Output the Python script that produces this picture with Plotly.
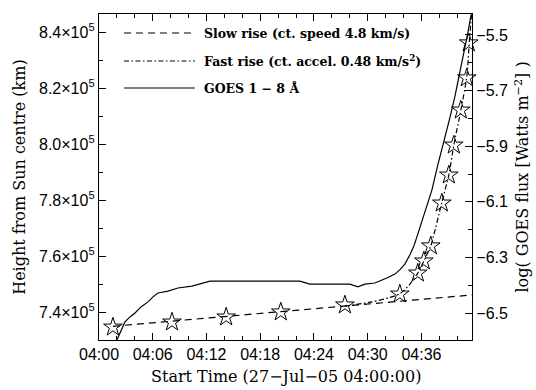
import pandas as pd
import plotly.graph_objects as go

T0 = pd.Timestamp("2005-07-27 04:00:00")

# Height-time measurements (minutes after 04:00, km)
star_min = [1.56, 8.15, 14.2, 20.3, 27.46, 33.59, 35.6, 36.27, 37.05, 38.28, 39.06, 39.62, 40.40, 41.07, 41.29]
star_h = [7.346e5, 7.364e5, 7.382e5, 7.400e5, 7.425e5, 7.464e5, 7.539e5, 7.582e5, 7.636e5,
          7.789e5, 7.889e5, 7.996e5, 8.121e5, 8.236e5, 8.361e5]

# Slow rise (constant speed) line
slow_min = [1.56, 41.7]
slow_h = [7.349e5, 7.461e5]

# Fast rise (constant acceleration) curve
fast_min = [27.46, 30.5, 32.5, 33.59, 34.6, 35.6, 36.27, 37.05, 38.28, 39.06, 39.62, 40.40, 41.07, 41.35, 41.6]
fast_h = [7.421e5, 7.436e5, 7.452e5, 7.465e5, 7.495e5, 7.539e5, 7.582e5, 7.636e5, 7.792e5,
          7.889e5, 7.996e5, 8.120e5, 8.240e5, 8.366e5, 8.461e5]

# GOES 1-8 A light curve (log flux)
goes_min = [1.90, 2.46, 2.90, 3.46, 4.02, 4.69, 5.47, 6.03, 6.58, 7.70, 8.82, 10.38, 11.27, 12.39,
            22.43, 23.55, 28.01, 28.91, 29.69, 30.80, 32.14, 33.04, 33.59, 34.15, 34.71, 35.16,
            35.49, 35.83, 36.05, 36.38, 36.61, 37.17, 37.83, 38.50, 39.17, 39.73, 40.29, 40.74,
            41.18, 41.52, 41.74]
goes_logflux = [-6.604, -6.561, -6.532, -6.514, -6.500, -6.478, -6.460, -6.442, -6.428, -6.421,
                -6.410, -6.403, -6.396, -6.385, -6.385, -6.396, -6.396, -6.406, -6.396, -6.392,
                -6.374, -6.360, -6.345, -6.324, -6.291, -6.259, -6.227, -6.194, -6.165, -6.133,
                -6.112, -6.058, -5.968, -5.888, -5.799, -5.723, -5.637, -5.565, -5.493, -5.432,
                -5.410]

height_ticks = [7.4e5, 7.6e5, 7.8e5, 8.0e5, 8.2e5, 8.4e5]
height_labels = ["7.4×10<sup>5</sup>", "7.6×10<sup>5</sup>", "7.8×10<sup>5</sup>",
                 "8.0×10<sup>5</sup>", "8.2×10<sup>5</sup>", "8.4×10<sup>5</sup>"]

legend_labels = ["Slow rise (ct. speed 4.8 km/s)",
                 "Fast rise (ct. accel. 0.48 km/s<sup>2</sup>)",
                 "GOES 1 − 8 Å"]


def to_time(mins):
    return T0 + pd.to_timedelta(mins, unit="m")


SLOW_DASH = "7px,5px"
FAST_DASH = "5px,2.5px,1.5px,2.5px"

fig = go.Figure()
fig.add_trace(go.Scatter(x=to_time(slow_min), y=slow_h, mode="lines",
                         line=dict(color="black", width=1.2, dash=SLOW_DASH), showlegend=False))
fig.add_trace(go.Scatter(x=to_time(fast_min), y=fast_h, mode="lines",
                         line=dict(color="black", width=1.2, dash=FAST_DASH, shape="spline", smoothing=0.6),
                         showlegend=False))
fig.add_trace(go.Scatter(x=to_time(goes_min), y=goes_logflux, mode="lines", yaxis="y2",
                         line=dict(color="black", width=1.2), showlegend=False))
fig.add_trace(go.Scatter(x=to_time(star_min), y=star_h, mode="markers",
                         marker=dict(symbol="star-open", size=14, color="black", line=dict(width=1)),
                         showlegend=False, cliponaxis=False))

tick_font = dict(family="Liberation Sans", size=16, color="black")
title_font = dict(family="DejaVu Serif", size=16, color="black")

fig.update_layout(
    width=536, height=390,
    margin=dict(l=99, r=64, t=14, b=50, pad=0),
    paper_bgcolor="white", plot_bgcolor="white",
    xaxis=dict(type="date",
               range=[T0, to_time(41.65)],
               tick0=T0, dtick=6 * 60 * 1000, tickformat="%H:%M",
               ticks="inside", ticklen=7, tickwidth=1, tickcolor="black",
               minor=dict(dtick=2 * 60 * 1000, ticks="inside", ticklen=4, tickcolor="black"),
               showline=True, linecolor="black", linewidth=1.3, mirror="ticks",
               showgrid=False, zeroline=False, tickfont=tick_font),
    yaxis=dict(range=[7.3e5, 8.4643e5],
               tickmode="array", tickvals=height_ticks, ticktext=height_labels,
               ticks="inside", ticklen=7, tickwidth=1, tickcolor="black",
               minor=dict(tickmode="linear", tick0=7.3e5, dtick=1e4, ticks="inside", ticklen=4,
                          tickcolor="black"),
               showline=True, linecolor="black", linewidth=1.3,
               showgrid=False, zeroline=False, tickfont=tick_font),
    yaxis2=dict(overlaying="y", side="right", range=[-6.597, -5.4245],
                tickmode="linear", tick0=-6.5, dtick=0.2, tickformat=".1f",
                ticks="inside", ticklen=7, tickwidth=1, tickcolor="black",
                minor=dict(dtick=0.1, ticks="inside", ticklen=4, tickcolor="black"),
                showline=True, linecolor="black", linewidth=1.3,
                showgrid=False, zeroline=False, tickfont=tick_font),
)

# axis titles
fig.add_annotation(text="Start Time (27−Jul−05 04:00:00)", xref="paper", yref="paper",
                   x=0.5, y=-0.113, xanchor="center", yanchor="middle", showarrow=False,
                   font=title_font)
fig.add_annotation(text="Height from Sun centre (km)", xref="paper", yref="paper",
                   x=-0.215, y=0.5, xanchor="center", yanchor="middle", showarrow=False,
                   textangle=-90, font=title_font)
fig.add_annotation(text="log( GOES flux [Watts m<sup>−2</sup>] )", xref="paper", yref="paper",
                   x=1.133, y=0.5, xanchor="center", yanchor="middle", showarrow=False,
                   textangle=-90, font=title_font)

# legend (drawn manually)
leg_y = [0.9417, 0.8558, 0.773]
leg_dash = [SLOW_DASH, FAST_DASH, "solid"]
for yy, lab, dsh in zip(leg_y, legend_labels, leg_dash):
    fig.add_shape(type="line", xref="paper", yref="paper", x0=0.067, x1=0.257, y0=yy, y1=yy,
                  line=dict(color="black", width=1.2, dash=dsh))
    fig.add_annotation(text="<b>" + lab + "</b>", xref="paper", yref="paper", x=0.276, y=yy,
                       xanchor="left", yanchor="middle", showarrow=False,
                       font=dict(family="DejaVu Serif", size=12.5, color="black"))

fig.write_html("out.html")
